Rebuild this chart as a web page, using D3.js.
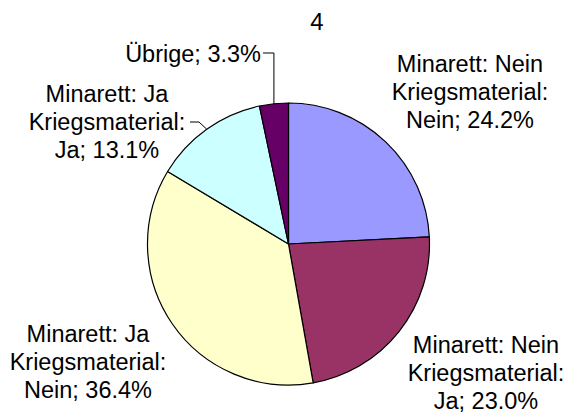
<!DOCTYPE html>
<html>
<head>
<meta charset="utf-8">
<script src="https://cdn.jsdelivr.net/npm/d3@7"></script>
<style>
  html, body { margin: 0; padding: 0; background: #fff; }
  svg text { font-family: "Liberation Sans", Arial, Helvetica, sans-serif; fill: #000; }
</style>
</head>
<body>
<svg id="chart" width="566" height="414"></svg>
<script>
// ---- data ----
const title = "4";
const categories = [
  ["Minarett: Nein", "Kriegsmaterial:", "Nein; 24.2%"],
  ["Minarett: Nein", "Kriegsmaterial:", "Ja; 23.0%"],
  ["Minarett: Ja", "Kriegsmaterial:", "Nein; 36.4%"],
  ["Minarett: Ja", "Kriegsmaterial:", "Ja; 13.1%"],
  ["Übrige; 3.3%"]
];
const values = [24.2, 23.0, 36.4, 13.1, 3.3];
const colors = ["#9999FF", "#993366", "#FFFFCC", "#CCFFFF", "#660066"];

// ---- layout ----
const W = 566, H = 414;
const cx = 288.5, cy = 244, R = 141;
const fontSize = 23.5, lineH = 28;
// label anchor: x, first baseline y, text-anchor, leader (elbow) or null
const labelLayout = [
  { x: 470, y: 72,  anchor: "middle", leader: null },
  { x: 486, y: 353, anchor: "middle", leader: null },
  { x: 88,  y: 342, anchor: "middle", leader: null },
  { x: 107, y: 102, anchor: "middle", leader: { elbow: "diag", ex: 199, ey: 122, tx: 190 } },
  { x: 261, y: 62,  anchor: "end",    leader: { elbow: "vert", ey: 53, tx: 263 } }
];

const svg = d3.select("#chart");

svg.append("text")
  .attr("x", 317).attr("y", 30)
  .attr("text-anchor", "middle")
  .attr("font-size", 24)
  .text(title);

const pie = d3.pie().sort(null).value(d => d)(values);
const arc = d3.arc().innerRadius(0).outerRadius(R);

const g = svg.append("g").attr("transform", `translate(${cx},${cy})`);
g.selectAll("path")
  .data(pie)
  .join("path")
  .attr("d", arc)
  .attr("fill", (d, i) => colors[i])
  .attr("stroke", "#000")
  .attr("stroke-width", 1.2)
  .attr("stroke-linejoin", "round");

// labels
pie.forEach((d, i) => {
  const L = labelLayout[i];
  const t = svg.append("text")
    .attr("x", L.x).attr("y", L.y)
    .attr("text-anchor", L.anchor)
    .attr("font-size", fontSize);
  categories[i].forEach((line, k) => {
    t.append("tspan").attr("x", L.x).attr("y", L.y + k * lineH).text(line);
  });
  if (L.leader) {
    const mid = (d.startAngle + d.endAngle) / 2;
    const px = cx + R * Math.sin(mid), py = cy - R * Math.cos(mid);
    let pts;
    if (L.leader.elbow === "vert") {
      pts = [[px, py], [px, L.leader.ey], [L.leader.tx, L.leader.ey]];
    } else {
      pts = [[px, py], [L.leader.ex, L.leader.ey], [L.leader.tx, L.leader.ey]];
    }
    svg.append("path")
      .attr("d", d3.line()(pts))
      .attr("fill", "none")
      .attr("stroke", "#000")
      .attr("stroke-width", 1);
  }
});
</script>
</body>
</html>
